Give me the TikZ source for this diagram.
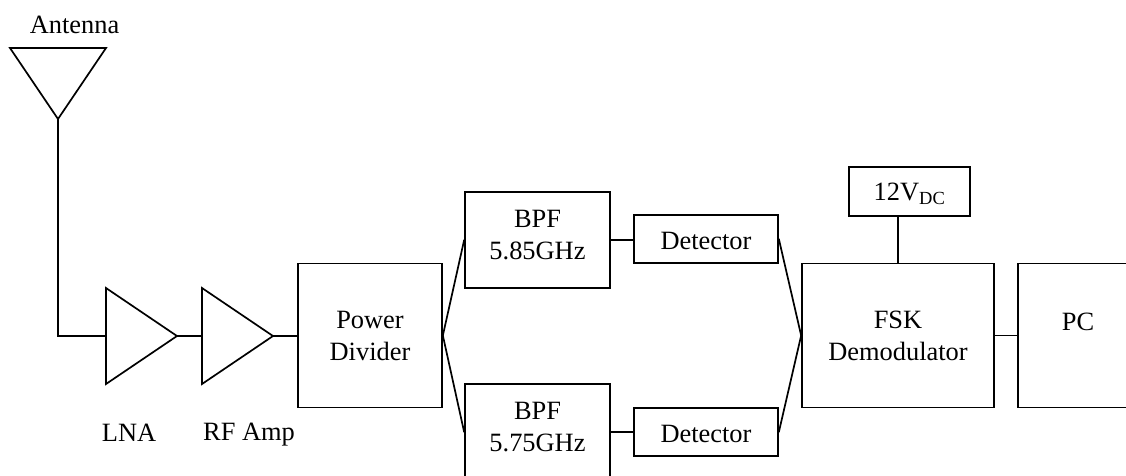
\documentclass[tikz,border=0pt]{standalone}
\usepackage{fontspec}
\setmainfont{Liberation Serif}
\tikzset{
  wire/.style={draw=black,line width=1.7pt,line cap=round,line join=miter},
  blockbox/.style={draw=black,line width=1.7pt,inner sep=0pt,align=center,
    font=\fontsize{26.4pt}{32pt}\selectfont},
  caption/.style={inner sep=0pt,align=center,font=\fontsize{26.4pt}{32pt}\selectfont},
  sized/.style n args={2}{minimum width=#1pt,minimum height=#2pt}
}
\begin{document}
\begin{tikzpicture}[x=1pt,y=-1pt]
\useasboundingbox (0,0) rectangle (1126,475);
\clip (0,0) rectangle (1126,475);
% antenna
\coordinate (antL) at (10,48);
\coordinate (antR) at (106,48);
\coordinate (antT) at (58,119);
\coordinate (bend) at (58,336);
\draw[wire] (antL) -- (antR) -- (antT) -- cycle;
\node[caption] (anttext) at (74.5,25) {Antenna};
% amplifiers
\coordinate (lnaT) at (106,288);
\coordinate (lnaB) at (106,384);
\coordinate (lnaIn) at (106,336);
\coordinate (lnaOut) at (177,336);
\draw[wire] (lnaT) -- (lnaOut) -- (lnaB) -- cycle;
\coordinate (rfT) at (202,288);
\coordinate (rfB) at (202,384);
\coordinate (rfIn) at (202,336);
\coordinate (rfOut) at (273,336);
\draw[wire] (rfT) -- (rfOut) -- (rfB) -- cycle;
\node[caption] (lnatext) at (129,433) {LNA};
\node[caption] (rftext) at (249,435) {RF Amp};
% blocks
\node[blockbox,sized={144}{144}] (div) at (370,335.5) {Power\\Divider};
\node[blockbox,sized={145}{96},label={[caption,yshift=5pt]center:{BPF\\5.85GHz}}] (bpfa) at (537.5,240) {};
\node[blockbox,sized={145}{96},label={[caption,yshift=5pt]center:{BPF\\5.75GHz}}] (bpfb) at (537.5,432) {};
\node[blockbox,sized={144}{48},label={[caption,yshift=-2pt]center:Detector}] (deta) at (706,239) {};
\node[blockbox,sized={144}{48},label={[caption,yshift=-2pt]center:Detector}] (detb) at (706,432) {};
\node[blockbox,sized={192}{144}] (fsk) at (898,335.5) {FSK\\Demodulator};
\node[blockbox,sized={121}{49},label={[caption,yshift=-2pt]center:{12V\textsubscript{DC}}}] (vdc) at (909.5,191.5) {};
\node[blockbox,sized={120}{144},label={[caption,yshift=14pt]center:PC}] (pc) at (1078,335.5) {};
% connectors
\draw[wire] (antT) -- (bend) -- (lnaIn);
\draw[wire] (lnaOut) -- (rfIn);
\draw[wire] (rfOut) -- (rfOut -| div.west);
\draw[wire] (div.east) -- (bpfa.west);
\draw[wire] (div.east) -- (bpfb.west);
\draw[wire] (bpfa.east) -- (bpfa.east -| deta.west);
\draw[wire] (bpfb.east) -- (detb.west);
\draw[wire] (deta.east) -- (fsk.west);
\draw[wire] (detb.east) -- (fsk.west);
\draw[wire] (fsk.north) -- (fsk.north |- vdc.south);
\draw[wire] (fsk.east) -- (pc.west);
\end{tikzpicture}
\end{document}
